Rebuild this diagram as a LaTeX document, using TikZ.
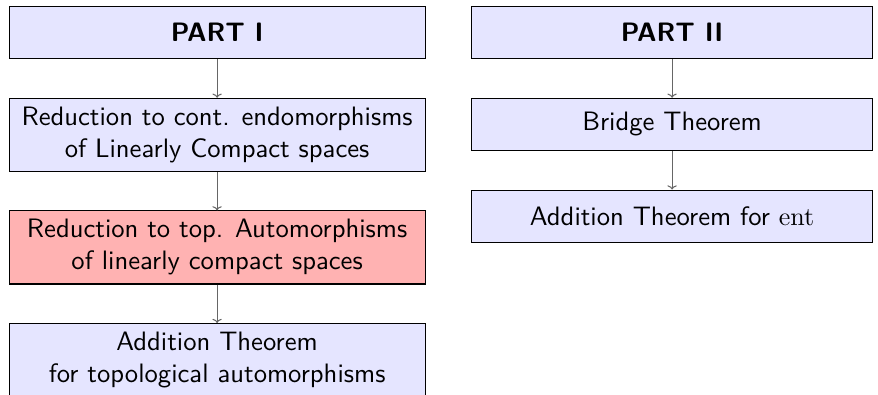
\documentclass[tikz,border=0pt]{standalone}
\usepackage{amsmath}
\usepackage{xcolor}
\usepackage{tikz}
\usetikzlibrary{
    positioning,
    arrows.meta,
}
\tikzset{
    % Box styles
    stage/.style={rectangle, draw, minimum height=20.1pt, align=center,
                  font=\sffamily\fontsize{10.25pt}{12.3pt}\selectfont,
                  fill=blue!10, inner sep=3.3pt},
    wide stage/.style={stage, minimum width=160pt},
    narrow stage/.style={stage, minimum width=154.5pt},
    hot stage/.style={wide stage, fill=red!30},
    % Arrow styles
    link/.style={-{To[length=1.6pt, width=3.6pt]}, black!60, thin},
}

\begin{document}
\begin{tikzpicture}[node distance=14.8pt]
    \useasboundingbox (0pt, 0pt) rectangle (337.7pt, -151.9pt);

    % First part
    \node[wide stage, anchor=north] (p1) at (83.5pt, -2.3pt) {\textbf{PART I}};
    \node[wide stage, below=of p1] (endo)
        {Reduction to cont. endomorphisms\\of Linearly Compact spaces};
    \node[hot stage, below=of endo] (auto)
        {Reduction to top. Automorphisms\\of linearly compact spaces};
    \node[wide stage, below=of auto] (addI)
        {Addition Theorem\\for topological automorphisms};

    % Second part
    \node[narrow stage, anchor=north] (p2) at (258.5pt, -2.3pt) {\textbf{PART II}};
    \node[narrow stage, below=of p2] (bridge) {Bridge Theorem};
    \node[narrow stage, below=of bridge] (addII) {Addition Theorem for $\mathrm{ent}$};

    \draw[link] (p1) -- (endo);
    \draw[link] (endo) -- (auto);
    \draw[link] (auto) -- (addI);
    \draw[link] (p2) -- (bridge);
    \draw[link] (bridge) -- (addII);
\end{tikzpicture}
\end{document}
